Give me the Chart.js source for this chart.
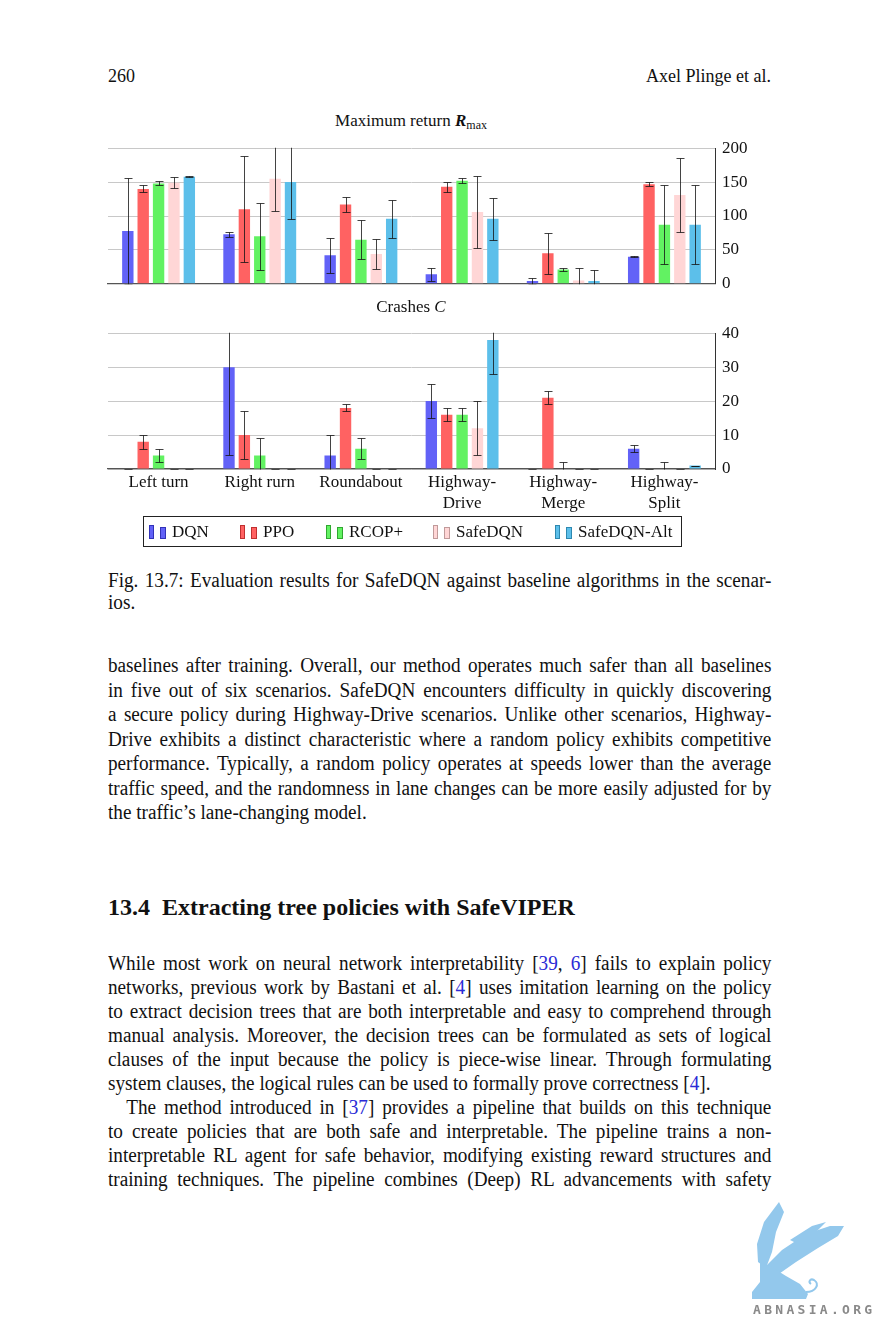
<!DOCTYPE html>
<html>
<head>
<meta charset="utf-8">
<script src="https://cdn.jsdelivr.net/npm/chart.js@4.4.1/dist/chart.umd.min.js"></script>
<style>
  html, body { margin:0; padding:0; background:#fff; }
  #page { position:relative; width:879px; height:1333px; overflow:hidden; font-family:'Liberation Serif','Times New Roman',serif; color:#111; }
  .abs { position:absolute; }
  .ln { position:absolute; left:108px; width:691px; font-size:20px; line-height:24px; text-align:justify; text-align-last:justify; transform:scaleX(0.96); transform-origin:0 0; }
  .ln.last { text-align-last:left; }
  .cite { color:#2a2ad6; }
  .indent { display:inline-block; width:19px; }
  canvas { position:absolute; }
  #legend { position:absolute; left:143px; top:516px; width:537px; height:29px; border:1px solid #222; font-size:17px; }
  .lent { position:absolute; top:0; height:29px; display:flex; align-items:center; white-space:nowrap; }
  .ic1 { width:3px; height:12px; margin-right:6px; }
  .ic2 { width:4px; height:10px; margin-right:6px; margin-top:2px; }
</style>
</head>
<body>
<div id="page">
  <div class="abs" style="left:108px;top:66px;font-size:18px;">260</div>
  <div class="abs" style="left:571px;width:200px;top:66px;font-size:18px;text-align:right;">Axel Plinge et al.</div>

  <div class="abs" style="left:211px;width:400px;top:111px;font-size:17px;text-align:center;">Maximum return <b><i>R</i></b><span style="font-size:12px;position:relative;top:3px;">max</span></div>
  <canvas id="c1" width="700" height="170" style="left:100px;top:131px;"></canvas>

  <div class="abs" style="left:211px;width:400px;top:297px;font-size:17px;text-align:center;">Crashes <i>C</i></div>
  <canvas id="c2" width="700" height="198" style="left:100px;top:316px;"></canvas>

  <div id="legend"></div>
  <div id="text"></div>

  <div class="abs" style="left:108px;top:894px;font-size:24px;font-weight:bold;white-space:nowrap;">13.4&nbsp;&nbsp;Extracting tree policies with SafeVIPER</div>

  <svg class="abs" style="left:0;top:0;" width="879" height="1333">
    <g fill="#93c8ec" stroke="none">
      <polygon points="779,1202 784,1212 776,1232 772,1252 766,1268 758,1262 757,1244 764,1222"/>
      <polygon points="762,1270 782,1250 806,1234 830,1226 844,1226 838,1236 818,1248 796,1262 776,1276"/>
      <polygon points="790,1240 812,1226 826,1222 816,1232 798,1244"/>
      <polygon points="760,1262 770,1266 786,1276 800,1284 808,1294 806,1299 752,1299 752,1292 760,1282"/>
    </g>
    <path d="M806,1292 C816,1292 820,1284 814,1280 C810,1278 808,1282 811,1284" fill="none" stroke="#93c8ec" stroke-width="2"/>
  </svg>
  <div class="abs" style="left:753px;top:1302px;font-family:'DejaVu Sans Mono',monospace;font-weight:bold;font-size:13px;letter-spacing:3.3px;color:#8a8a8a;">ABNASIA.ORG</div>
</div>

<script>
// ---------- data ----------
const categories = [["Left turn"], ["Right rurn"], ["Roundabout"], ["Highway-", "Drive"], ["Highway-", "Merge"], ["Highway-", "Split"]];
const seriesNames = ["DQN", "PPO", "RCOP+", "SafeDQN", "SafeDQN-Alt"];
const seriesColors = ["#6262f7", "#ff6262", "#62f262", "#ffd6d6", "#5cbfea"];
const seriesEdges = ["#3232b8", "#c03030", "#30a830", "#c09a9a", "#2e88b0"];

const returnTicks = [0, 50, 100, 150, 200];
const crashTicks = [0, 10, 20, 30, 40];

// Maximum return R_max
const returnDQN     = [78, 73, 42, 14, 4, 40];
const returnDQNErr  = [78, 4, 26, 10, 5, 0.5];
const returnPPO     = [140, 110, 117, 143, 45, 147];
const returnPPOErr  = [5, 78, 11, 7, 30, 3];
const returnRCOP    = [148, 70, 65, 152, 21, 87];
const returnRCOPErr = [3, 49, 29, 4, 2, 58];
const returnSafe    = [149, 155, 44, 106, 5, 131];
const returnSafeErr = [8, 48, 22, 53, 18, 55];
const returnAlt     = [158, 150, 96, 96, 4, 87];
const returnAltErr  = [1, 55, 28, 31, 17, 58];

// Crashes C
const crashDQN     = [0, 30, 4, 20, 0, 6];
const crashDQNErr  = [0, 26, 6, 5, 0, 1];
const crashPPO     = [8, 10, 18, 16, 21, 0];
const crashPPOErr  = [2, 7, 1, 2, 2, 0];
const crashRCOP    = [4, 4, 6, 16, 0, 0];
const crashRCOPErr = [2, 5, 3, 2, 2, 2];
const crashSafe    = [0, 0, 0, 12, 0, 0];
const crashSafeErr = [0, 0, 0, 8, 0, 0];
const crashAlt     = [0, 0, 0, 38, 0, 1];
const crashAltErr  = [0, 0, 0, 10, 0, 0];

// ---------- page text ----------
const caption = [
  "Fig. 13.7: Evaluation results for SafeDQN against baseline algorithms in the scenar-",
  "ios."
];
const para1 = [
  "baselines after training. Overall, our method operates much safer than all baselines",
  "in five out of six scenarios. SafeDQN encounters difficulty in quickly discovering",
  "a secure policy during Highway-Drive scenarios. Unlike other scenarios, Highway-",
  "Drive exhibits a distinct characteristic where a random policy exhibits competitive",
  "performance. Typically, a random policy operates at speeds lower than the average",
  "traffic speed, and the randomness in lane changes can be more easily adjusted for by",
  "the traffic’s lane-changing model."
];
const para2 = [
  "While most work on neural network interpretability [<span class=\"cite\">39</span>, <span class=\"cite\">6</span>] fails to explain policy",
  "networks, previous work by Bastani et al. [<span class=\"cite\">4</span>] uses imitation learning on the policy",
  "to extract decision trees that are both interpretable and easy to comprehend through",
  "manual analysis. Moreover, the decision trees can be formulated as sets of logical",
  "clauses of the input because the policy is piece-wise linear. Through formulating",
  "system clauses, the logical rules can be used to formally prove correctness [<span class=\"cite\">4</span>].",
  "<span class=\"indent\"></span>The method introduced in [<span class=\"cite\">37</span>] provides a pipeline that builds on this technique",
  "to create policies that are both safe and interpretable. The pipeline trains a non-",
  "interpretable RL agent for safe behavior, modifying existing reward structures and",
  "training techniques. The pipeline combines (Deep) RL advancements with safety"
];
const textHost = document.getElementById('text');
function addLines(lines, firstCenter, step, lastIdx) {
  lines.forEach((t, k) => {
    const d = document.createElement('div');
    d.className = 'ln' + (lastIdx.includes(k) ? ' last' : '');
    d.style.top = (firstCenter + k * step - 12) + 'px';
    d.innerHTML = t;
    textHost.appendChild(d);
  });
}
addLines(caption, 580, 21.5, [1]);
addLines(para1, 665, 24.5, [6]);
addLines(para2, 963, 24, [5]);

// ---------- legend ----------
const legendLefts = [5, 96, 182, 289, 411];
const legend = document.getElementById('legend');
seriesNames.forEach((n, i) => {
  const e = document.createElement('div');
  e.className = 'lent';
  e.style.left = legendLefts[i] + 'px';
  e.innerHTML = '<div class="ic1" style="background:' + seriesColors[i] + ';border:1px solid ' + seriesEdges[i] + '"></div>' +
                '<div class="ic2" style="background:' + seriesColors[i] + ';border:1px solid ' + seriesEdges[i] + '"></div>' +
                '<span>' + n + '</span>';
  legend.appendChild(e);
});

// ---------- charts ----------
Chart.defaults.font.family = "'Liberation Serif','Times New Roman',serif";
Chart.defaults.font.size = 17;
Chart.defaults.color = '#111';

const errorBars = {
  id: 'errorBars',
  afterDatasetsDraw(chart) {
    const ctx = chart.ctx, a = chart.chartArea, ys = chart.scales.y;
    ctx.save();
    ctx.beginPath();
    ctx.rect(a.left, a.top - 0.5, a.right - a.left, a.bottom - a.top + 1);
    ctx.clip();
    ctx.strokeStyle = 'rgba(20,20,20,0.8)';
    ctx.lineWidth = 1;
    chart.data.datasets.forEach((ds, i) => {
      const meta = chart.getDatasetMeta(i);
      meta.data.forEach((el, j) => {
        const v = ds.data[j], e = ds.errors[j];
        const x = Math.round(el.x) + 0.5;
        const yt = Math.round(ys.getPixelForValue(v + e)) + 0.5;
        const yb = Math.round(ys.getPixelForValue(v - e)) + 0.5;
        ctx.beginPath();
        ctx.moveTo(x, yt); ctx.lineTo(x, yb);
        ctx.moveTo(x - 4, yt); ctx.lineTo(x + 4, yt);
        ctx.moveTo(x - 4, yb); ctx.lineTo(x + 4, yb);
        ctx.stroke();
      });
    });
    ctx.restore();
  }
};

function makeDatasets(values, errors) {
  return values.map((v, i) => ({
    label: seriesNames[i],
    data: v,
    errors: errors[i],
    backgroundColor: seriesColors[i],
    borderWidth: 0,
    categoryPercentage: 0.76,
    barPercentage: 0.74
  }));
}

function makeChart(id, values, errors, ticks, showLabels, xHeight) {
  return new Chart(document.getElementById(id), {
    type: 'bar',
    data: { labels: categories, datasets: makeDatasets(values, errors) },
    options: {
      responsive: false,
      animation: false,
      layout: { padding: { left: 8, top: 10, right: 0, bottom: 0 } },
      plugins: { legend: { display: false }, tooltip: { enabled: false } },
      scales: {
        x: {
          offset: true,
          grid: { display: false },
          border: { color: '#555', width: 1.3 },
          ticks: { display: showLabels, padding: -4, color: '#111', font: { size: 17, lineHeight: 1.18 } },
          afterFit(s) { s.height = xHeight; }
        },
        y: {
          position: 'right',
          min: ticks[0], max: ticks[ticks.length - 1],
          afterBuildTicks(s) { s.ticks = ticks.map(v => ({ value: v })); },
          grid: { color: '#c8c8c8', lineWidth: 1, drawTicks: false },
          border: { color: '#333', width: 1 },
          ticks: { padding: 7, color: '#111', font: { size: 17 } },
          afterFit(s) { s.width = 85; }
        }
      }
    },
    plugins: [errorBars]
  });
}

makeChart('c1',
  [returnDQN, returnPPO, returnRCOP, returnSafe, returnAlt],
  [returnDQNErr, returnPPOErr, returnRCOPErr, returnSafeErr, returnAltErr],
  returnTicks, false, 13);

makeChart('c2',
  [crashDQN, crashPPO, crashRCOP, crashSafe, crashAlt],
  [crashDQNErr, crashPPOErr, crashRCOPErr, crashSafeErr, crashAltErr],
  crashTicks, true, 45);
</script>
</body>
</html>
